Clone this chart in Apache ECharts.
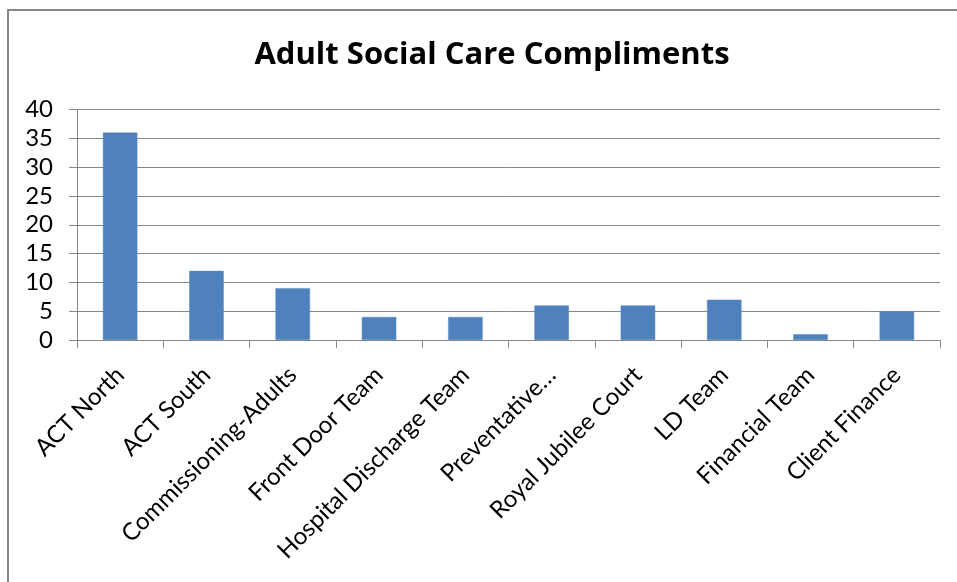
<!DOCTYPE html>
<html>
<head>
<meta charset="utf-8">
<script src="https://cdn.jsdelivr.net/npm/echarts@6/dist/echarts.min.js"></script>
<style>
  html, body { margin: 0; padding: 0; background: #fff; }
  #chart { width: 957px; height: 582px; }
</style>
</head>
<body>
<div id="chart"></div>
<script>
const titleText = 'Adult Social Care Compliments';
const categories = [
  'ACT North', 'ACT South', 'Commissioning-Adults', 'Front Door Team',
  'Hospital Discharge Team', 'Preventative…', 'Royal Jubilee Court',
  'LD Team', 'Financial Team', 'Client Finance'
];
const compliments = [36, 12, 9, 4, 4, 6, 6, 7, 1, 5];
const yTicks = [0, 5, 10, 15, 20, 25, 30, 35, 40];

const font = 'Lato, "Open Sans", sans-serif';
const chart = echarts.init(document.getElementById('chart'), null, { renderer: 'canvas' });

chart.setOption({
  animation: false,
  backgroundColor: '#ffffff',
  title: {
    text: titleText,
    left: 487,
    top: 35,
    textAlign: 'center',
    textStyle: { fontFamily: '"Open Sans", Lato, sans-serif', fontWeight: 'bold', fontSize: 31, color: '#000' }
  },
  graphic: [{
    type: 'rect',
    shape: { x: 8, y: 10, width: 1000, height: 620 },
    style: { fill: 'none', stroke: '#868686', lineWidth: 2 },
    silent: true
  }],
  grid: { left: 77, right: 17, top: 109.5, bottom: 242 },
  xAxis: {
    type: 'category',
    data: categories,
    boundaryGap: true,
    axisLine: { lineStyle: { color: '#868686', width: 1 } },
    axisTick: { show: true, alignWithLabel: false, length: 8, lineStyle: { color: '#868686' } },
    axisLabel: {
      interval: 0,
      rotate: 45,
      margin: 31,
      fontFamily: font,
      fontSize: 24,
      color: '#000'
    }
  },
  yAxis: {
    type: 'value',
    min: yTicks[0],
    max: yTicks[yTicks.length - 1],
    interval: 5,
    axisLine: { show: true, lineStyle: { color: '#868686', width: 1 } },
    axisTick: { show: true, inside: false, length: 8, lineStyle: { color: '#868686' } },
    splitLine: { show: true, lineStyle: { color: '#868686', width: 1 } },
    axisLabel: { fontFamily: font, fontSize: 24, color: '#000', margin: 24 }
  },
  series: [{
    type: 'bar',
    data: compliments,
    barWidth: '40%',
    itemStyle: { color: '#4F81BD', borderColor: '#5A8AC6', borderWidth: 0.5 }
  }]
});
</script>
</body>
</html>
